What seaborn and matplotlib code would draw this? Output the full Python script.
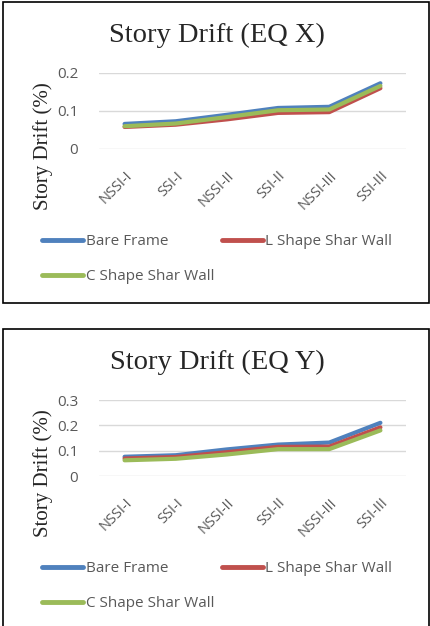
import numpy as np
import pandas as pd
import matplotlib
matplotlib.use("Agg")
import matplotlib.pyplot as plt
import seaborn as sns
from matplotlib.patches import Rectangle

# data
cases = ["NSSI-I", "SSI-I", "NSSI-II", "SSI-II", "NSSI-III", "SSI-III"]
series = ["Bare Frame", "L Shape Shar Wall", "C Shape Shar Wall"]

eqx_bare = [0.066, 0.073, 0.090, 0.108, 0.111, 0.173]
eqx_lshape = [0.058, 0.064, 0.078, 0.095, 0.097, 0.160]
eqx_cshape = [0.060, 0.067, 0.084, 0.102, 0.104, 0.166]

eqy_bare = [0.076, 0.082, 0.105, 0.124, 0.132, 0.210]
eqy_lshape = [0.069, 0.075, 0.094, 0.115, 0.116, 0.192]
eqy_cshape = [0.062, 0.068, 0.085, 0.106, 0.106, 0.180]

colors = ["#4F81BD", "#C0504D", "#9BBB59"]
gray = "#595959"

sns.set_style("white")
plt.rcParams["font.family"] = ["Open Sans", "DejaVu Sans"]

W, H = 430, 626
fig = plt.figure(figsize=(W / 100, H / 100), dpi=100)


def px_axes(x0, y0, x1, y1):
    # pixel box (top-left origin) -> figure axes
    return fig.add_axes([x0 / W, 1 - y1 / H, (x1 - x0) / W, (y1 - y0) / H])


def panel(vals, title, ymax, yticks, dy):
    df = pd.DataFrame({
        "x": np.tile(np.arange(len(cases)), len(series)),
        "drift": np.concatenate(vals),
        "series": np.repeat(series, len(cases)),
    })
    # box around the panel
    fig.patches.append(Rectangle((3 / W, 1 - (303 + dy) / H), 426 / W, 301 / H,
                                 transform=fig.transFigure, fill=False,
                                 edgecolor="black", linewidth=1.2))
    # top gridline sits at y=73 in both panels (shifted by dy)
    ax = px_axes(99, 73 + dy, 406, 149 + dy)
    sns.lineplot(data=df, x="x", y="drift", hue="series", palette=colors,
                 linewidth=3.0, ax=ax, legend=False)
    ax.set_xlim(-0.5, len(cases) - 0.5)
    ax.set_ylim(0, ymax)
    ax.set_yticks(yticks)
    ax.set_yticklabels([("%g" % t) for t in yticks], color=gray, fontsize=11)
    ax.set_xticks(np.arange(len(cases)))
    ax.set_xticklabels(cases, rotation=45, ha="right", rotation_mode="anchor",
                       color=gray, fontsize=10.5)
    ax.tick_params(axis="x", length=0, pad=14)
    ax.tick_params(axis="y", length=0, pad=15)
    ax.grid(axis="y", color="#D9D9D9", linewidth=1)
    ax.set_axisbelow(True)
    for s in ax.spines.values():
        s.set_visible(False)
    ax.set_xlabel("")
    ax.set_ylabel("")
    ax.patch.set_alpha(0)

    fig.text(217 / W, 1 - (42 + dy) / H, title, ha="center", va="baseline",
             family="Liberation Serif", fontsize=20.5)
    fig.text(43 / W, 1 - (146 + dy) / H, "Story Drift (%)", rotation=90,
             ha="center", va="center", family="Liberation Serif", fontsize=15)

    # column-wise fill: Bare / C in first column, L in second
    order = [0, 2, 1]
    handles = [plt.Line2D([], [], color=colors[i], linewidth=3.5) for i in order]
    labels = [series[i] for i in order]
    leg = fig.legend(handles, labels, ncol=2, loc="upper left",
                     bbox_to_anchor=(42 / W, 1 - (234 + dy) / H),
                     frameon=False, fontsize=11, handlelength=2.7,
                     handletextpad=0.15, columnspacing=0.5, labelspacing=1.3,
                     borderaxespad=0, borderpad=0)
    for t in leg.get_texts():
        t.set_color(gray)
    return ax


panel([eqx_bare, eqx_lshape, eqx_cshape], "Story Drift (EQ X)", 0.2,
      [0, 0.1, 0.2], 0)
# second panel: 0.3 gridline at y=401, 0 at y=476
panel([eqy_bare, eqy_lshape, eqy_cshape], "Story Drift (EQ Y)", 0.3,
      [0, 0.1, 0.2, 0.3], 327)

fig.savefig("out.png", dpi=100)
